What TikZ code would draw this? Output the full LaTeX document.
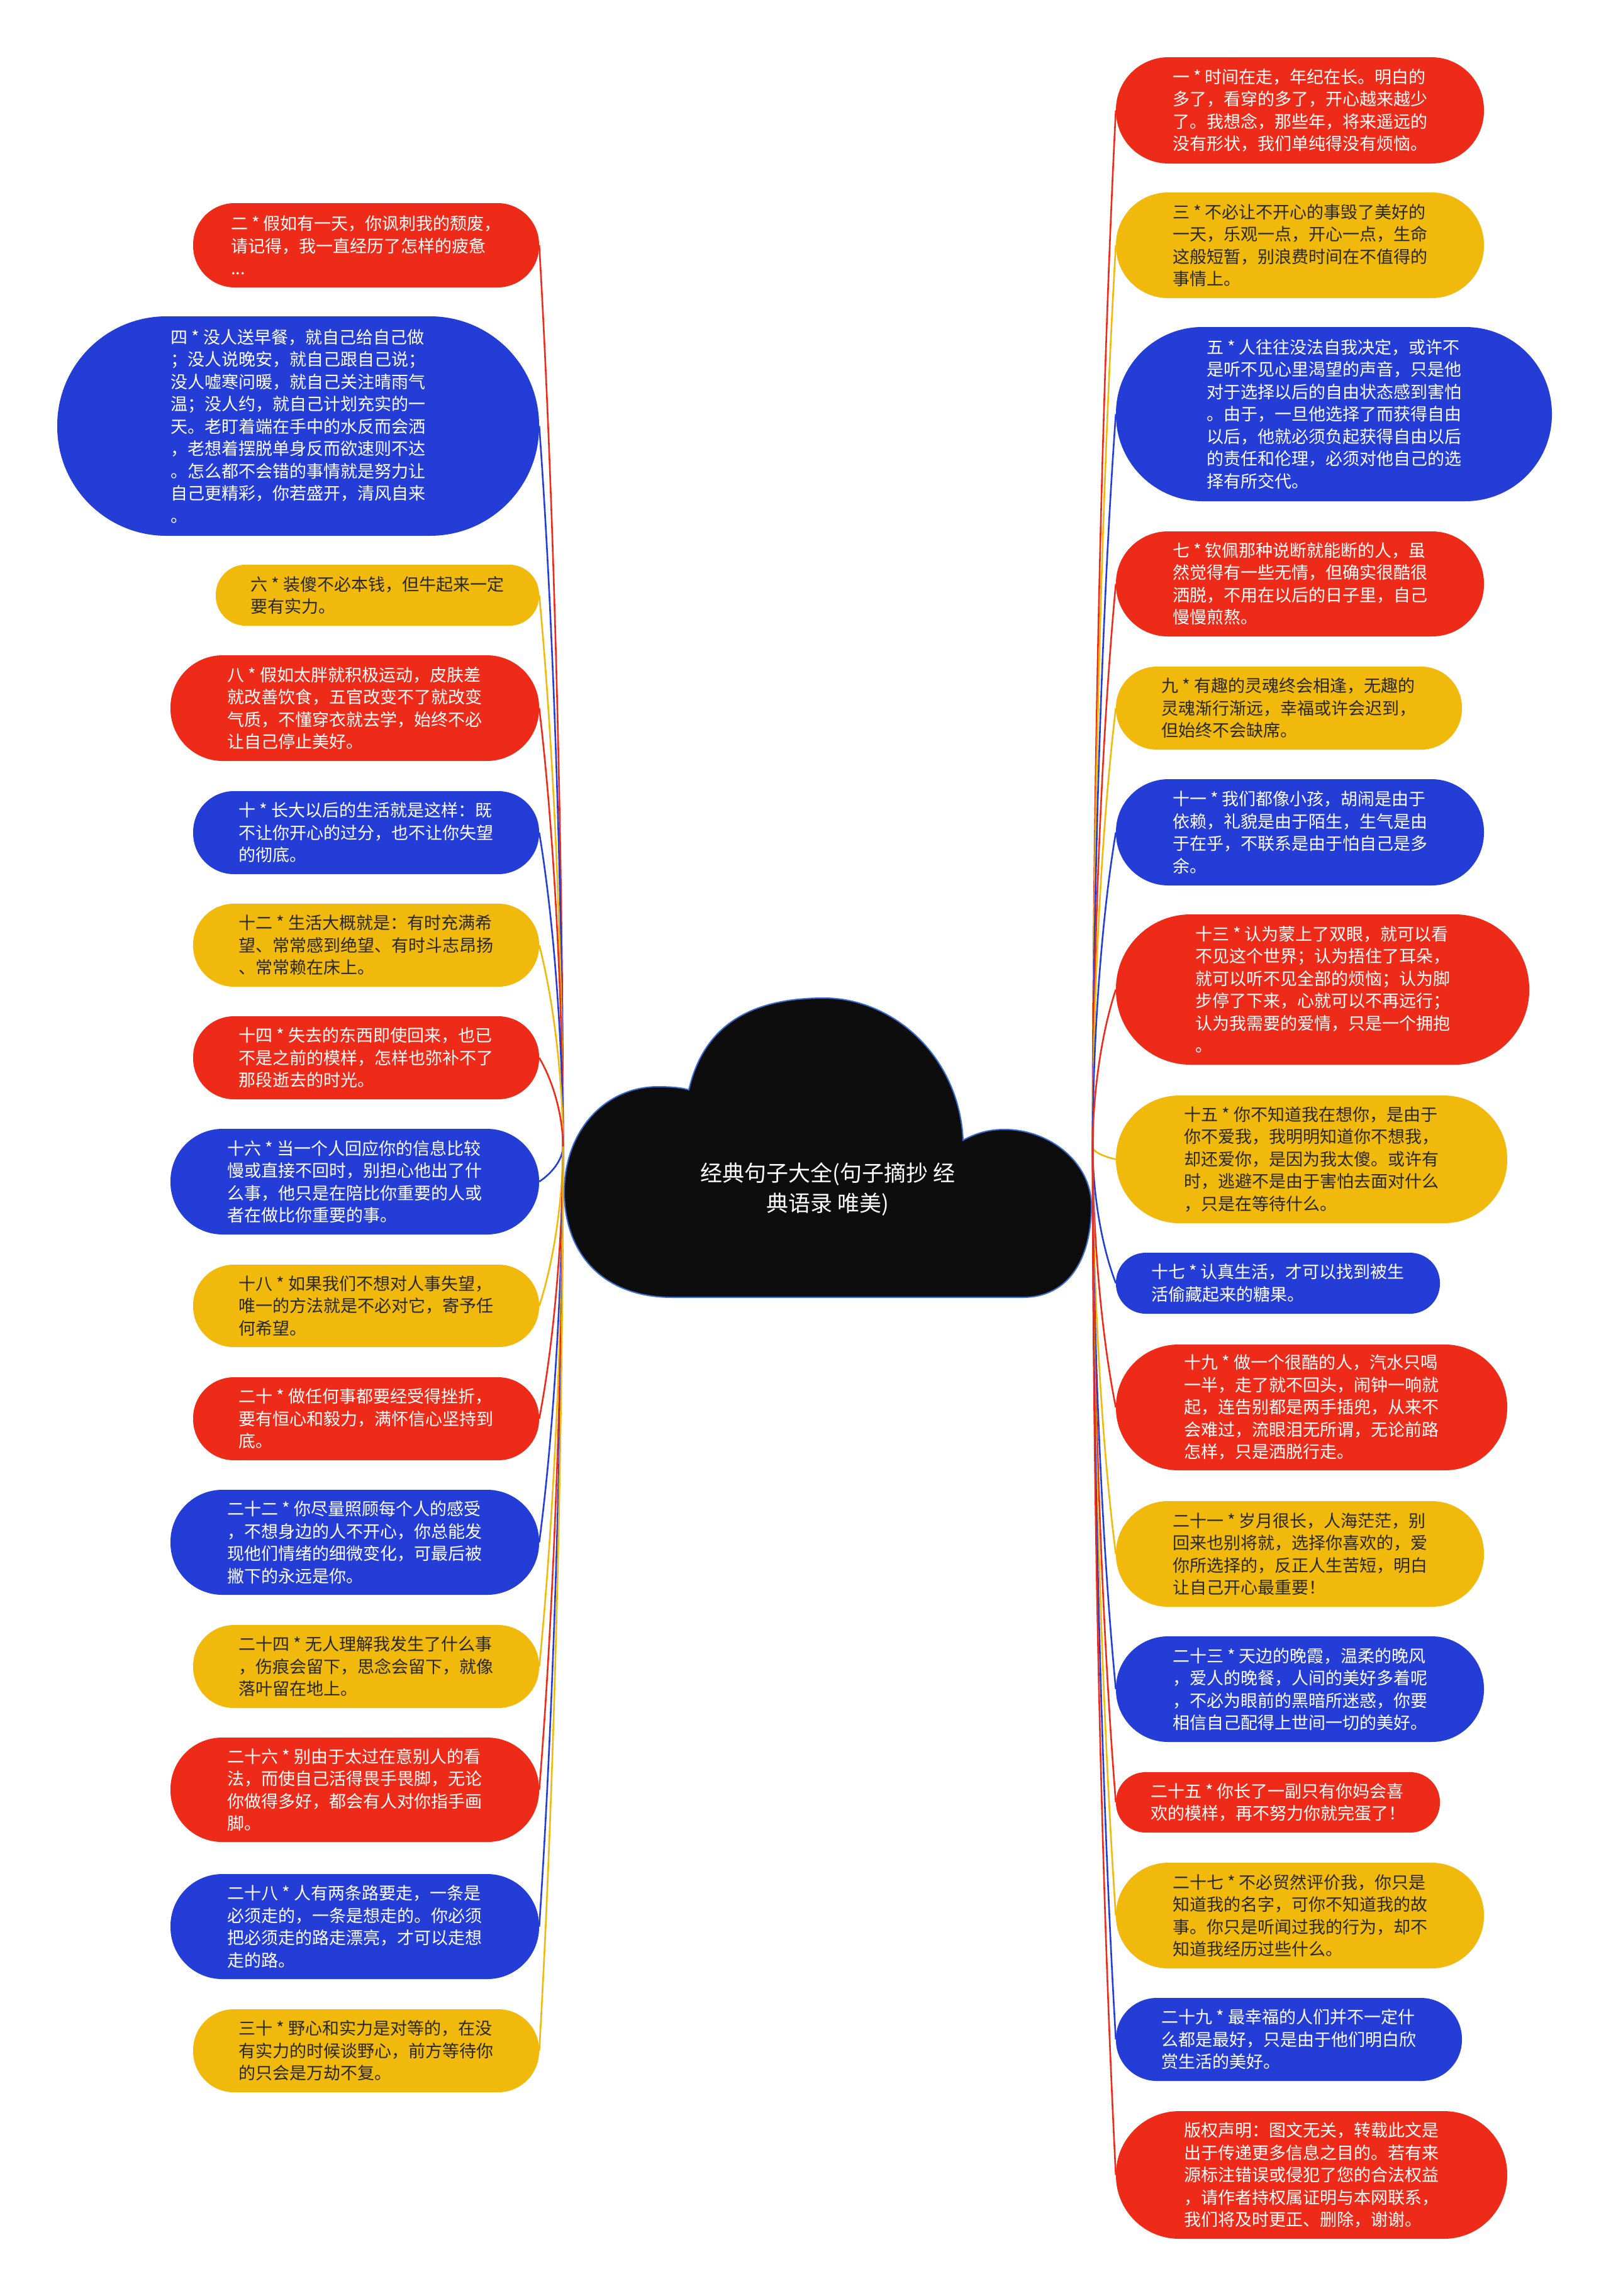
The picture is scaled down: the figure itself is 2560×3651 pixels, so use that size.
\documentclass[tikz,border=0pt]{standalone}
\usepackage{fontspec}
\setmainfont{Noto Sans CJK SC}
\usetikzlibrary{calc}
\definecolor{bred}{RGB}{238,42,24}
\definecolor{byel}{RGB}{240,185,12}
\definecolor{bblu}{RGB}{35,61,214}
\definecolor{ytext}{RGB}{40,40,40}
\definecolor{cloudc}{RGB}{13,13,13}
\definecolor{cloudedge}{RGB}{60,110,210}
\tikzset{
  leaf/.style={rectangle, align=left, inner sep=0pt, font=\fontsize{27}{35.5}\selectfont},
  sz/.style 2 args={minimum width=#1, minimum height=#2, rounded corners=#2/2-1},
  redb/.style={leaf, fill=bred, text=white},
  yelb/.style={leaf, fill=byel, text=ytext},
  blub/.style={leaf, fill=bblu, text=white},
  conn/.style={line width=2.6pt},
  roottext/.style={align=center, text=white, inner sep=0pt, font=\fontsize{35}{48}\selectfont},
}
\newcommand\lconn[2]{\draw[conn,#2] (HL) .. controls ($(HL)!0.3!(HL|-#1.east)$) and ($(#1.east)!0.3!(#1.east|-HL)+(25,0)$) .. (#1.east);}
\newcommand\rconn[2]{\draw[conn,#2] (HR) .. controls ($(HR)!0.3!(HR|-#1.west)$) and ($(#1.west)!0.3!(#1.west|-HR)+(-25,0)$) .. (#1.west);}
\begin{document}
\begin{tikzpicture}[x=1pt,y=-1pt]
\useasboundingbox[fill=white] (0,0) rectangle (2560,3651);

% cloud
\filldraw[fill=cloudc, draw=cloudedge, line width=2pt]
  (1069,2063) .. controls (955,2063) and (897,1990) .. (897,1895)
  .. controls (897,1800) and (960,1728) .. (1046,1728)
  .. controls (1070,1728) and (1085,1730) .. (1095,1733)
  .. controls (1120,1625) and (1200,1587) .. (1310,1587)
  .. controls (1420,1587) and (1525,1680) .. (1531,1813)
  .. controls (1555,1800) and (1575,1796) .. (1597,1796)
  .. controls (1670,1796) and (1735,1850) .. (1735,1917)
  .. controls (1735,2000) and (1700,2063) .. (1626,2063) -- cycle;
\node[roottext] (root) at (1316,1891) {经典句子大全(句子摘抄 经\\典语录 唯美)};
\coordinate (HL) at (895,1823);
\coordinate (HR) at (1737,1824);

% left column
\node[redb, sz={550}{134}] (n2) at (582,390) {二 * 假如有一天，你讽刺我的颓废，\\请记得，我一直经历了怎样的疲惫\\...};
\node[blub, sz={766}{349}] (n4) at (474,677.5) {四 * 没人送早餐，就自己给自己做\\；没人说晚安，就自己跟自己说；\\没人嘘寒问暖，就自己关注晴雨气\\温；没人约，就自己计划充实的一\\天。老盯着端在手中的水反而会洒\\，老想着摆脱单身反而欲速则不达\\。怎么都不会错的事情就是努力让\\自己更精彩，你若盛开，清风自来\\。};
\node[yelb, sz={514}{97}] (n6) at (600,946.5) {六 * 装傻不必本钱，但牛起来一定\\要有实力。};
\node[redb, sz={586}{168}] (n8) at (564,1126) {八 * 假如太胖就积极运动，皮肤差\\就改善饮食，五官改变不了就改变\\气质，不懂穿衣就去学，始终不必\\让自己停止美好。};
\node[blub, sz={550}{132}] (n10) at (582,1324) {十 * 长大以后的生活就是这样：既\\不让你开心的过分，也不让你失望\\的彻底。};
\node[yelb, sz={550}{132}] (n12) at (582,1503) {十二 * 生活大概就是：有时充满希\\望、常常感到绝望、有时斗志昂扬\\、常常赖在床上。};
\node[redb, sz={550}{132}] (n14) at (582,1682) {十四 * 失去的东西即使回来，也已\\不是之前的模样，怎样也弥补不了\\那段逝去的时光。};
\node[blub, sz={586}{168}] (n16) at (564,1879) {十六 * 当一个人回应你的信息比较\\慢或直接不回时，别担心他出了什\\么事，他只是在陪比你重要的人或\\者在做比你重要的事。};
\node[yelb, sz={550}{131}] (n18) at (582,2076.5) {十八 * 如果我们不想对人事失望，\\唯一的方法就是不必对它，寄予任\\何希望。};
\node[redb, sz={550}{132}] (n20) at (582,2256) {二十 * 做任何事都要经受得挫折，\\要有恒心和毅力，满怀信心坚持到\\底。};
\node[blub, sz={586}{167}] (n22) at (564,2452.5) {二十二 * 你尽量照顾每个人的感受\\，不想身边的人不开心，你总能发\\现他们情绪的细微变化，可最后被\\撇下的永远是你。};
\node[yelb, sz={550}{132}] (n24) at (582,2650) {二十四 * 无人理解我发生了什么事\\，伤痕会留下，思念会留下，就像\\落叶留在地上。};
\node[redb, sz={586}{166}] (n26) at (564,2846) {二十六 * 别由于太过在意别人的看\\法，而使自己活得畏手畏脚，无论\\你做得多好，都会有人对你指手画\\脚。};
\node[blub, sz={586}{167}] (n28) at (564,3063.5) {二十八 * 人有两条路要走，一条是\\必须走的，一条是想走的。你必须\\把必须走的路走漂亮，才可以走想\\走的路。};
\node[yelb, sz={550}{132}] (n30) at (582,3261) {三十 * 野心和实力是对等的，在没\\有实力的时候谈野心，前方等待你\\的只会是万劫不复。};

% right column
\node[redb, sz={585}{169}] (n1) at (2066.5,175.5) {一 * 时间在走，年纪在长。明白的\\多了，看穿的多了，开心越来越少\\了。我想念，那些年，将来遥远的\\没有形状，我们单纯得没有烦恼。};
\node[yelb, sz={585}{168}] (n3) at (2066.5,390) {三 * 不必让不开心的事毁了美好的\\一天，乐观一点，开心一点，生命\\这般短暂，别浪费时间在不值得的\\事情上。};
\node[blub, sz={693}{277}] (n5) at (2120.5,658.5) {五 * 人往往没法自我决定，或许不\\是听不见心里渴望的声音，只是他\\对于选择以后的自由状态感到害怕\\。由于，一旦他选择了而获得自由\\以后，他就必须负起获得自由以后\\的责任和伦理，必须对他自己的选\\择有所交代。};
\node[redb, sz={585}{167}] (n7) at (2066.5,928.5) {七 * 钦佩那种说断就能断的人，虽\\然觉得有一些无情，但确实很酷很\\洒脱，不用在以后的日子里，自己\\慢慢煎熬。};
\node[yelb, sz={550}{132}] (n9) at (2049,1126) {九 * 有趣的灵魂终会相逢，无趣的\\灵魂渐行渐远，幸福或许会迟到，\\但始终不会缺席。};
\node[blub, sz={585}{169}] (n11) at (2066.5,1323.5) {十一 * 我们都像小孩，胡闹是由于\\依赖，礼貌是由于陌生，生气是由\\于在乎，不联系是由于怕自己是多\\余。};
\node[redb, sz={657}{239}] (n13) at (2102.5,1573.5) {十三 * 认为蒙上了双眼，就可以看\\不见这个世界；认为捂住了耳朵，\\就可以听不见全部的烦恼；认为脚\\步停了下来，心就可以不再远行；\\认为我需要的爱情，只是一个拥抱\\。};
\node[yelb, sz={622}{203}] (n15) at (2085,1843.5) {十五 * 你不知道我在想你，是由于\\你不爱我，我明明知道你不想我，\\却还爱你，是因为我太傻。或许有\\时，逃避不是由于害怕去面对什么\\，只是在等待什么。};
\node[blub, sz={515}{97}] (n17) at (2031.5,2040.5) {十七 * 认真生活，才可以找到被生\\活偷藏起来的糖果。};
\node[redb, sz={622}{200}] (n19) at (2085,2238) {十九 * 做一个很酷的人，汽水只喝\\一半，走了就不回头，闹钟一响就\\起，连告别都是两手插兜，从来不\\会难过，流眼泪无所谓，无论前路\\怎样，只是洒脱行走。};
\node[yelb, sz={585}{168}] (n21) at (2066.5,2471) {二十一 * 岁月很长，人海茫茫，别\\回来也别将就，选择你喜欢的，爱\\你所选择的，反正人生苦短，明白\\让自己开心最重要！};
\node[blub, sz={585}{168}] (n23) at (2066.5,2686) {二十三 * 天边的晚霞，温柔的晚风\\，爱人的晚餐，人间的美好多着呢\\，不必为眼前的黑暗所迷惑，你要\\相信自己配得上世间一切的美好。};
\node[redb, sz={515}{96}] (n25) at (2031.5,2866) {二十五 * 你长了一副只有你妈会喜\\欢的模样，再不努力你就完蛋了！};
\node[yelb, sz={585}{168}] (n27) at (2066.5,3046) {二十七 * 不必贸然评价我，你只是\\知道我的名字，可你不知道我的故\\事。你只是听闻过我的行为，却不\\知道我经历过些什么。};
\node[blub, sz={550}{132}] (n29) at (2049,3243) {二十九 * 最幸福的人们并不一定什\\么都是最好，只是由于他们明白欣\\赏生活的美好。};
\node[redb, sz={622}{203}] (n31) at (2085,3458.5) {版权声明：图文无关，转载此文是\\出于传递更多信息之目的。若有来\\源标注错误或侵犯了您的合法权益\\，请作者持权属证明与本网联系，\\我们将及时更正、删除，谢谢。};

% connectors left
\lconn{n2}{bred}
\lconn{n4}{bblu}
\lconn{n6}{byel}
\lconn{n8}{bred}
\lconn{n10}{bblu}
\lconn{n12}{byel}
\lconn{n14}{bred}
\lconn{n16}{bblu}
\lconn{n18}{byel}
\lconn{n20}{bred}
\lconn{n22}{bblu}
\lconn{n24}{byel}
\lconn{n26}{bred}
\lconn{n28}{bblu}
\lconn{n30}{byel}
% connectors right
\rconn{n1}{bred}
\rconn{n3}{byel}
\rconn{n5}{bblu}
\rconn{n7}{bred}
\rconn{n9}{byel}
\rconn{n11}{bblu}
\rconn{n13}{bred}
\rconn{n15}{byel}
\rconn{n17}{bblu}
\rconn{n19}{bred}
\rconn{n21}{byel}
\rconn{n23}{bblu}
\rconn{n25}{bred}
\rconn{n27}{byel}
\rconn{n29}{bblu}
\rconn{n31}{bred}
\end{tikzpicture}
\end{document}
